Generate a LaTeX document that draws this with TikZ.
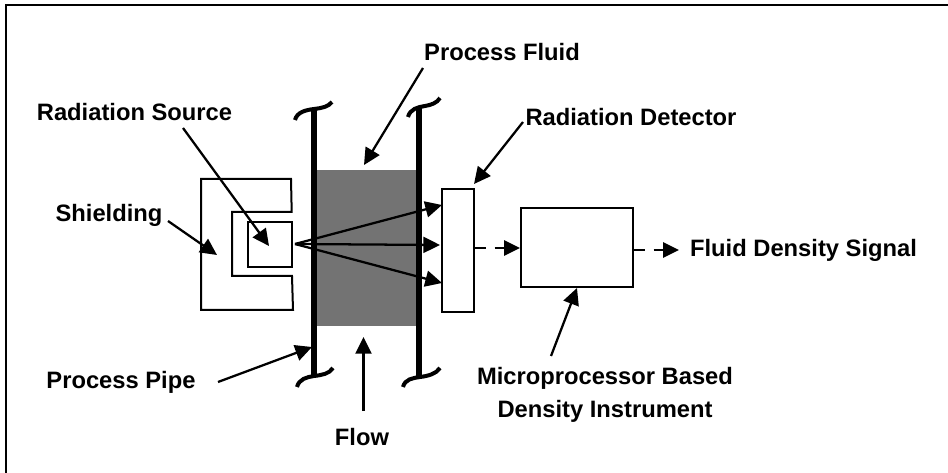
\documentclass[tikz,border=0pt]{standalone}
\usepackage{fontspec}
\setmainfont{Liberation Sans}
\usetikzlibrary{arrows.meta}
\definecolor{fluidgrey}{HTML}{737373}
\tikzset{
  x=0.75pt,y=-0.75pt,
  lbl/.style={font=\bfseries\fontsize{17.8}{25}\selectfont,inner sep=0pt,text=black,align=center},
  outline/.style={draw=black,line width=1.5pt,fill=white},
  pipewall/.style={line width=4pt,draw=black},
  wave/.style={line width=3pt,draw=black},
  pointer/.style={line width=1.7pt,-{Triangle[length=12.5pt,width=12pt]}},
  dashflow/.style={line width=1.7pt,dash pattern=on 8pt off 6.8pt,-{Triangle[length=12pt,width=11.5pt]}},
}
\begin{document}
\begin{tikzpicture}
\useasboundingbox (0,0) rectangle (948,473);
\draw[line width=1.5pt] (6,473) -- (6,5) -- (948,5);
\fill[fluidgrey] (317,170) rectangle (417,326);
\coordinate (lt) at (314,110); \coordinate (lb) at (314,377);
\coordinate (rt) at (419,108); \coordinate (rb) at (419,377);
\draw[pipewall] (lt) -- (lb);
\draw[pipewall] (rt) -- (rb);
\draw[wave] (295,120) .. controls (297,112) and (306,110) .. (314,109) .. controls (322,108) and (328,107) .. (332,102);
\draw[wave] (408,117) .. controls (410,109) and (418,107) .. (425,106) .. controls (431,105) and (437,103) .. (440,98);
\draw[wave] (297,387) .. controls (299,379) and (307,377) .. (314,376) .. controls (322,375) and (329,374) .. (333,368);
\draw[wave] (403,387) .. controls (405,379) and (413,378) .. (420,377) .. controls (428,376) and (436,374) .. (440,368);
\draw[line width=1.5pt] (291,179) -- (201,179) -- (201,310) -- (293,310) -- (292,276) -- (232,276) -- (232,212) -- (291.7,212) -- cycle;
\node[outline,minimum width=44pt*0.75,minimum height=45pt*0.75,inner sep=0pt] (source) at (270,244.5) {};
\node[outline,minimum width=32pt*0.75,minimum height=123pt*0.75,inner sep=0pt] (detector) at (458,250.5) {};
\node[outline,minimum width=112pt*0.75,minimum height=79pt*0.75,inner sep=0pt] (instr) at (577,247.5) {};
\coordinate (o) at (295,244);
\coordinate (d1) at (442,205); \coordinate (d2) at (440,245); \coordinate (d3) at (442,283);
\draw[pointer] (o) -- (d1);
\draw[pointer] (o) -- (d2);
\draw[pointer] (o) -- (d3);
\node[lbl] (tfluid) at (502,52) {Process Fluid};
\node[lbl] (tsource) at (134.5,112) {Radiation Source};
\node[lbl] (tdet) at (631,117) {Radiation Detector};
\node[lbl] (tshield) at (109,215) {Shielding};
\node[lbl] (tsig) at (803.5,250) {Fluid Density Signal};
\node[lbl] (tpipe) at (121,382) {Process Pipe};
\node[lbl] (tflow) at (362,437) {Flow};
\node[lbl] (tinstr) at (605,395) {Microprocessor Based\\Density Instrument};
\coordinate (afluid1) at (423,68); \coordinate (afluid2) at (364,165);
\draw[pointer] (afluid1) -- (afluid2);
\coordinate (asrc1) at (183,128); \coordinate (asrc2) at (269,246);
\draw[pointer] (asrc1) -- (asrc2);
\coordinate (ashield1) at (168,221); \coordinate (ashield2) at (217,255);
\draw[pointer] (ashield1) -- (ashield2);
\coordinate (apipe) at (218,382); \coordinate (apipe2) at (312,347);
\draw[pointer] (apipe) -- (apipe2);
\coordinate (aflow1) at (363.5,411); \coordinate (aflow2) at (363.5,337);
\draw[pointer] (aflow1) -- (aflow2);
\coordinate (adet1) at (523,122); \coordinate (adet2) at (474,184);
\draw[pointer] (adet1) -- (adet2);
\coordinate (ainstr1) at (551,356); \coordinate (ainstr2) at (577,288);
\draw[pointer] (ainstr1) -- (ainstr2);
\draw[dashflow] (detector.east |- 0,248) -- (instr.west |- 0,248);
\coordinate (sigend) at (679,250);
\draw[dashflow] (instr.east |- 0,250) -- (sigend);
\end{tikzpicture}
\end{document}
